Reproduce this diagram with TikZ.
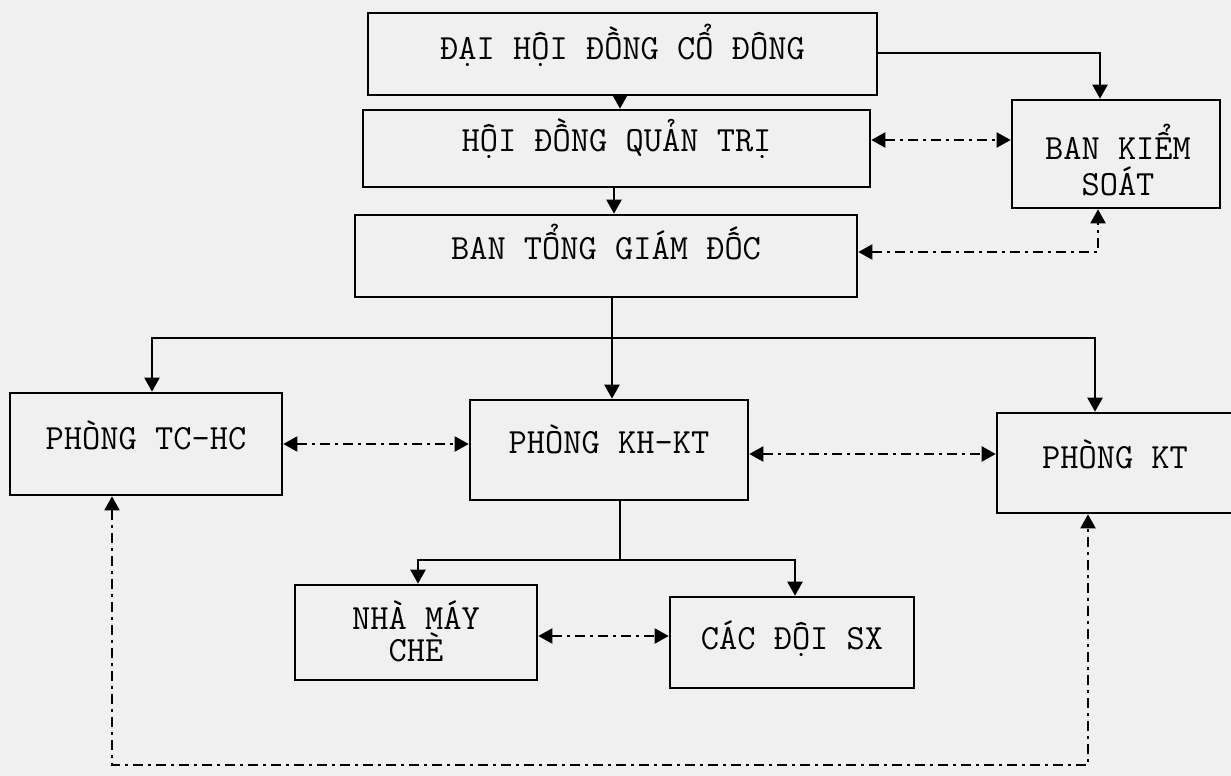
\documentclass[tikz,border=0pt]{standalone}
\usepackage{fontspec}
\usetikzlibrary{arrows.meta,calc}
\definecolor{paper}{RGB}{240,240,240}
\begin{document}
\begin{tikzpicture}[x=0.5pt,y=-0.5pt,
  box/.style={draw=black,line width=1.3pt,rectangle,inner sep=0pt,
    font=\ttfamily\fontsize{17.7}{19}\selectfont,align=center,
    text height=12pt,text depth=7pt},
  lbl/.style={inner sep=0pt,align=center},
  arr/.style={line width=1.1pt,-{Triangle[length=7pt,width=7.5pt]}},
  darr/.style={line width=1pt,{Triangle[length=7pt,width=7.5pt]}-{Triangle[length=7pt,width=7.5pt]},
    dash pattern=on 5pt off 2.5pt on 1.5pt off 2.5pt}]
\fill[paper] (0,0) rectangle (1231,776);
\useasboundingbox (0,0) rectangle (1231,776);

\node[box,minimum width=254.5pt,minimum height=41pt] (dh) at (622.5,54) {ĐẠI HỘI ĐỒNG CỔ ĐÔNG};
\node[box,minimum width=253.5pt,minimum height=38.5pt,text depth=9pt] (hd) at (616.5,148.5) {HỘI ĐỒNG QUẢN TRỊ};
\node[box,minimum width=104pt,minimum height=54pt] (bks) at (1116,154) {};
\node[lbl,font=\ttfamily\fontsize{17.7}{18}\selectfont] (bkst) at (1118,160) {BAN KIỂM\\SOÁT};
\node[box,minimum width=251pt,minimum height=41pt,text depth=8.5pt] (tgd) at (606,256) {BAN TỔNG GIÁM ĐỐC};
\node[box,minimum width=136pt,minimum height=51pt] (tc) at (146,444) {PHÒNG TC-HC};
\node[box,minimum width=139pt,minimum height=50pt,text depth=8.5pt] (kh) at (609,450) {PHÒNG KH-KT};
\node[box,minimum width=118pt,minimum height=50pt] (kt) at (1115,463) {PHÒNG KT};
\node[box,minimum width=121pt,minimum height=47.5pt] (nm) at (416,632.5) {};
\node[lbl,font=\ttfamily\fontsize{17.7}{16}\selectfont] (nmt) at (416,631) {NHÀ MÁY\\CHÈ};
\node[box,minimum width=122pt,minimum height=45.5pt,text depth=5pt] (cd) at (792,642.5) {CÁC ĐỘI SX};

\coordinate (c1) at (620,0);
\coordinate (c2) at (1100,53);
\coordinate (c3) at (0,140);
\coordinate (c4) at (1098,252);
\coordinate (c5) at (614,0);
\coordinate (bus1) at (612,338);
\coordinate (tcx) at (152,0);
\coordinate (ktx) at (1095,0);
\coordinate (y7) at (0,444);
\coordinate (y8) at (0,454);
\coordinate (bus2) at (620,560);
\coordinate (nmx) at (418,0);
\coordinate (cdx) at (795,0);
\coordinate (y10) at (0,636);
\coordinate (lb) at (112,765);
\coordinate (rb) at (1088,765);

\draw[arr] (dh.south -| c1) -- (hd.north -| c1);
\draw[arr] (dh.east |- c2) -| (bks.north -| c2);
\draw[darr] (hd.east |- c3) -- (bks.west |- c3);
\draw[darr] (tgd.east |- c4) -| (bks.south -| c4);
\draw[arr] (hd.south -| c5) -- (tgd.north -| c5);
\draw[arr] (tgd.south -| bus1) -- (kh.north -| bus1);
\draw[arr] (bus1) -| (tc.north -| tcx);
\draw[arr] (bus1) -| (kt.north -| ktx);
\draw[darr] (tc.east |- y7) -- (kh.west |- y7);
\draw[darr] (kh.east |- y8) -- (kt.west |- y8);
\draw[line width=1.1pt] (kh.south -| bus2) -- (bus2);
\draw[arr] (bus2) -| (nm.north -| nmx);
\draw[arr] (bus2) -| (cd.north -| cdx);
\draw[darr] (nm.east |- y10) -- (cd.west |- y10);
\draw[darr] (tc.south -| lb) -- (lb) -- (rb) -- (kt.south -| rb);
\end{tikzpicture}
\end{document}
